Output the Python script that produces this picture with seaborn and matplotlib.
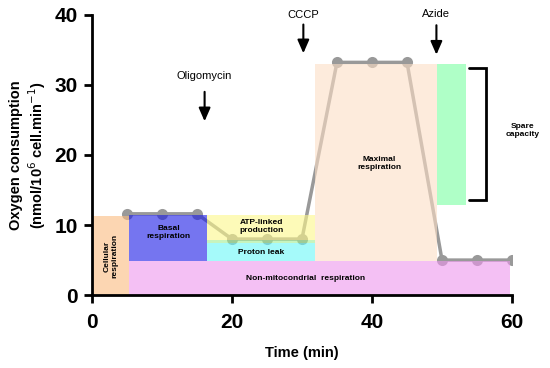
import numpy as np
import pandas as pd
import matplotlib
matplotlib.use('Agg')
import matplotlib.pyplot as plt
import seaborn as sns

# oxygen trace
time_min = [5, 10, 15, 20, 25, 30, 35, 40, 45, 50, 55, 60]
oxygen = [11.6, 11.6, 11.6, 8.0, 8.0, 8.0, 33.2, 33.2, 33.2, 5.0, 5.0, 5.0]

# shaded regions (x from, x to, y from, y to)
region_names = ['Cellular respiration', 'Basal respiration', 'Non-mitochondrial',
                'ATP-linked', 'Overlap', 'Proton leak', 'Maximal respiration', 'Spare capacity']
region_x0 = [0, 5.3, 5.3, 16.5, 16.5, 16.5, 31.8, 49.3]
region_x1 = [5.3, 16.5, 59.7, 31.8, 31.8, 31.8, 49.3, 53.4]
region_y0 = [0, 4.8, 0, 7.8, 7.4, 4.8, 4.8, 12.9]
region_y1 = [11.3, 11.5, 4.8, 11.5, 7.8, 7.4, 33.0, 33.0]
region_colors = ['#fabb80', '#1a1ae6', '#ee96ee', '#fcf88a', '#a3ee93', '#69f7f7', '#fcdec5', '#7affa3']

# drug injections (x, text y, arrow start, arrow end)
drugs = ['Oligomycin', 'CCCP', 'Azide']
drug_x = [16.1, 30.2, 49.2]
drug_text_y = [31.2, 39.9, 40.1]
arrow_top = [29.0, 38.6, 38.5]
arrow_bottom = [24.8, 34.5, 34.3]

df = pd.DataFrame({'Time': time_min, 'O2': oxygen})

sns.set_style('ticks')
plt.rcParams['font.family'] = ['Liberation Sans', 'DejaVu Sans']
plt.rcParams['text.color'] = 'black'
plt.rcParams['axes.labelcolor'] = 'black'
plt.rcParams['xtick.color'] = 'black'
plt.rcParams['ytick.color'] = 'black'

fig = plt.figure(figsize=(5.5, 3.68), dpi=100)
ax = fig.add_axes([0.167, 0.198, 0.764, 0.762])

sns.lineplot(data=df, x='Time', y='O2', ax=ax, color='#999999', lw=2.5,
             marker='o', markersize=8, markeredgewidth=0, zorder=1)

for x0, x1, y0, y1, c in zip(region_x0, region_x1, region_y0, region_y1, region_colors):
    ax.bar(x0, y1 - y0, width=x1 - x0, bottom=y0, align='edge', color=c,
           alpha=0.6, linewidth=0, zorder=2)

# labels inside regions
small = dict(fontsize=6, fontweight='bold', ha='center', va='center', zorder=5)
ax.text(2.7, 5.6, 'Cellular\nrespiration', rotation=90, **small)
ax.text(11.0, 8.9, 'Basal\nrespiration', **small)
ax.text(24.2, 9.8, 'ATP-linked\nproduction', **small)
ax.text(24.2, 6.1, 'Proton leak', **small)
ax.text(30.5, 2.4, 'Non-mitocondrial  respiration', **small)
ax.text(41.0, 18.8, 'Maximal\nrespiration', **small)
ax.text(61.5, 23.5, 'Spare\ncapacity', clip_on=False, **small)

# bracket for spare capacity
ax.plot([53.8, 56.3, 56.3, 53.8], [32.4, 32.4, 13.5, 13.5], color='black',
        lw=2, solid_joinstyle='miter', clip_on=False, zorder=5)

for name, x, ty, a0, a1 in zip(drugs, drug_x, drug_text_y, arrow_top, arrow_bottom):
    ax.text(x, ty, name, fontsize=8, ha='center', va='center')
    ax.annotate('', xy=(x, a1), xytext=(x, a0),
                arrowprops=dict(arrowstyle='-|>,head_width=0.35,head_length=0.8',
                                color='black', lw=1.5, shrinkA=0, shrinkB=0),
                annotation_clip=False)

ax.set_xlim(0, 60)
ax.set_ylim(0, 40)
ax.set_xticks([0, 20, 40, 60])
ax.set_yticks([0, 10, 20, 30, 40])
sns.despine(ax=ax)
for s in ['left', 'bottom']:
    ax.spines[s].set_linewidth(2)
    ax.spines[s].set_color('black')
    ax.spines[s].set_zorder(6)
ax.tick_params(width=2, length=6, labelsize=15, color='black', labelcolor='black')
ax.tick_params(axis='x', pad=7)
ax.tick_params(axis='y', pad=4)
for lab in ax.get_xticklabels() + ax.get_yticklabels():
    lab.set_fontweight('bold')
ax.set_xlabel('Time (min)', fontsize=10.5, fontweight='bold', labelpad=10)
ax.set_ylabel('Oxygen consumption\n(nmol/10$^6$ cell.min$^{-1}$)', fontsize=10.5,
              fontweight='bold', labelpad=5)

fig.savefig('out.png', dpi=100)
